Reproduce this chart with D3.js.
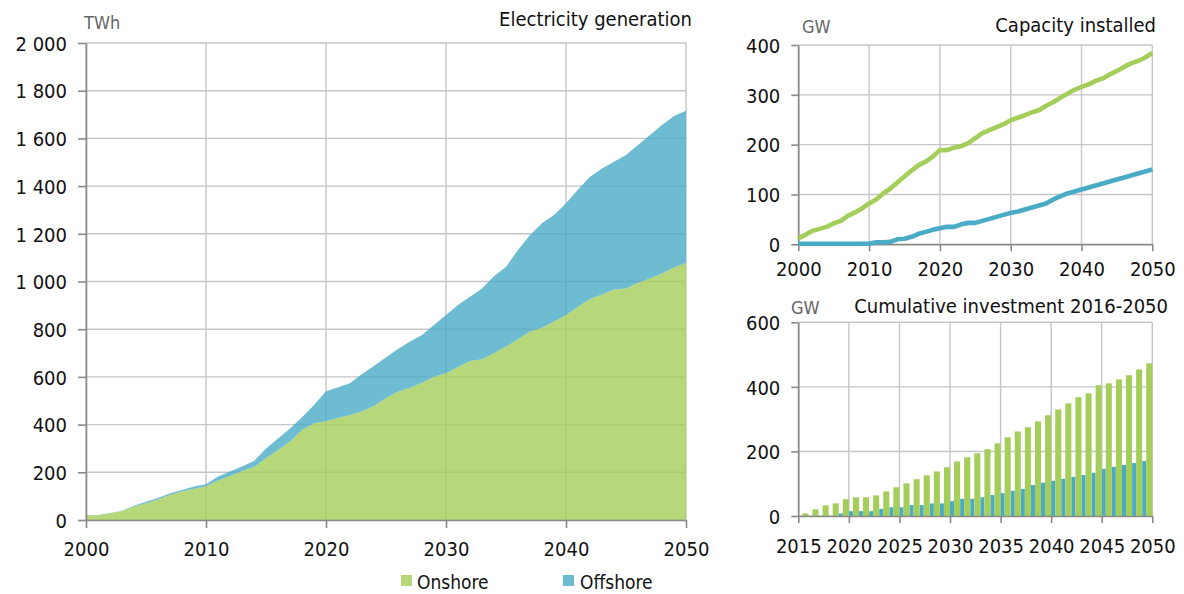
<!DOCTYPE html>
<html>
<head>
<meta charset="utf-8">
<script src="https://cdn.jsdelivr.net/npm/d3@7/dist/d3.min.js"></script>
<style>
  html, body { margin: 0; padding: 0; background: #fff; }
  svg { display: block; }
  text { font-family: 'DejaVu Sans Condensed', 'DejaVu Sans', sans-serif; font-stretch: condensed; fill: #111; }
</style>
</head>
<body>
<svg id="chart" width="1184" height="594"></svg>
<script>
// ---------------- DATA ----------------
const genYears = d3.range(2000, 2051);
const genOnshore = [21, 20, 28, 38, 57, 70, 86, 106, 119, 131,
  142, 166, 184, 205, 222, 259, 293, 329, 377, 406,
  414, 428, 440, 456, 478, 512, 538, 554, 575, 601,
  615, 641, 667, 674, 699, 727, 758, 790, 806, 832,
  860, 894, 927, 945, 966, 971, 995, 1013, 1034, 1059, 1078];
const genOffshore = [0, 1, 1, 1, 3, 7, 6, 6, 7, 9,
  8, 16, 19, 19, 25, 41, 49, 55, 54, 76,
  126, 129, 133, 156, 168, 170, 179, 194, 201, 217,
  245, 260, 269, 297, 323, 335, 374, 405, 438, 447,
  468, 492, 512, 529, 536, 559, 577, 601, 622, 635, 638];

const capYears = d3.range(2000, 2051);
const capOnshore = [12, 19, 27, 31, 35, 42, 47, 57, 64, 72,
  82, 90, 102, 112, 124, 136, 148, 159, 166, 176,
  189, 189, 194, 197, 203, 213, 223, 229, 235, 241,
  249, 254, 259, 265, 269, 278, 285, 294, 302, 310,
  316, 321, 328, 333, 341, 348, 356, 363, 368, 375, 384];
const capOffshore = [1, 1, 1, 1, 1, 1, 1, 1, 1, 1,
  1, 4, 4, 5, 10, 11, 15, 21, 25, 29,
  32, 35, 35, 40, 43, 43, 47, 51, 55, 59,
  63, 66, 70, 74, 78, 82, 90, 96, 102, 106,
  110, 114, 118, 122, 126, 130, 134, 138, 142, 146, 150];

const invYears = d3.range(2016, 2051);
const invOnshore = [8, 21, 33, 39, 52, 58, 58, 64, 76, 89,
  101, 114, 126, 138, 151, 169, 182, 194, 207, 225,
  244, 262, 275, 293, 312, 330, 349, 368, 380, 405,
  411, 423, 436, 454, 473];
const invOffshore = [0, 0, 0, 0, 8, 15, 15, 15, 22, 27,
  27, 34, 34, 39, 39, 46, 53, 53, 58, 65,
  71, 78, 84, 96, 103, 109, 115, 121, 127, 134,
  146, 152, 158, 164, 170];

const seriesNames = ["Onshore", "Offshore"];
const genYTicks = [0, 200, 400, 600, 800, 1000, 1200, 1400, 1600, 1800, 2000];
const genYLabels = ["0", "200", "400", "600", "800", "1 000", "1 200", "1 400", "1 600", "1 800", "2 000"];
const genXTicks = [2000, 2010, 2020, 2030, 2040, 2050];
const capYTicks = [0, 100, 200, 300, 400];
const capXTicks = [2000, 2010, 2020, 2030, 2040, 2050];
const invYTicks = [0, 200, 400, 600];
const invXTicks = [2015, 2020, 2025, 2030, 2035, 2040, 2045, 2050];

// ---------------- STYLE ----------------
const GREEN = "#a5cd5a";
const BLUE = "#4aabc7";
const GRID = "#c6c6c6";
const AXIS = "#8a8a8a";
const FS = 20;

const svg = d3.select("#chart");

function styleAxis(g) {
  g.selectAll("path.domain").attr("stroke", AXIS).attr("stroke-width", 1.6);
  g.selectAll(".tick line").attr("stroke", AXIS).attr("stroke-width", 1.6);
  g.selectAll(".tick text").attr("font-size", FS).attr("fill", "#111")
    .style("font-family", "'DejaVu Sans Condensed', 'DejaVu Sans', sans-serif");
}

function grid(g, x, y, xTicks, yTicks) {
  const [x0, x1] = x.range();
  const [y0, y1] = y.range();
  g.selectAll("line.h").data(yTicks).join("line").attr("class", "h")
    .attr("x1", x0).attr("x2", x1).attr("y1", d => y(d)).attr("y2", d => y(d))
    .attr("stroke", GRID).attr("stroke-width", 1.4);
  g.selectAll("line.v").data(xTicks).join("line").attr("class", "v")
    .attr("x1", d => x(d)).attr("x2", d => x(d)).attr("y1", y0).attr("y2", y1)
    .attr("stroke", GRID).attr("stroke-width", 1.4);
}

// ---------------- LEFT: Electricity generation ----------------
{
  const x = d3.scaleLinear().domain([2000, 2050]).range([86, 686]);
  const y = d3.scaleLinear().domain([0, 2000]).range([520, 43]);
  const g = svg.append("g");
  grid(g.append("g"), x, y, genXTicks, genYTicks);

  const rows = genYears.map((yr, i) => ({ year: yr, Onshore: genOnshore[i], Offshore: genOffshore[i] }));
  const stack = d3.stack().keys(seriesNames)(rows);
  const area = d3.area().x(d => x(d.data.year)).y0(d => y(d[0])).y1(d => y(d[1]));
  const colors = { Onshore: GREEN, Offshore: BLUE };
  g.selectAll("path.area").data(stack).join("path").attr("class", "area")
    .attr("d", area).attr("fill", d => colors[d.key]).attr("fill-opacity", 0.8);

  const ya = g.append("g").attr("transform", `translate(${x(2000)},0)`)
    .call(d3.axisLeft(y).tickValues(genYTicks).tickSize(8).tickSizeOuter(0).tickPadding(11)
      .tickFormat((d, i) => genYLabels[i]));
  styleAxis(ya);
  ya.selectAll(".tick text").attr("dy", "0.36em");

  const xa = g.append("g").attr("transform", `translate(0,${y(0)})`)
    .call(d3.axisBottom(x).tickValues(genXTicks).tickSize(8).tickSizeOuter(0).tickPadding(14).tickFormat(d3.format("d")));
  styleAxis(xa);

  g.append("text").attr("x", 84).attr("y", 29).attr("font-size", 18).attr("fill", "#666").style("fill", "#666").text("TWh");
  g.append("text").attr("x", 692).attr("y", 26).attr("text-anchor", "end").attr("font-size", FS).text("Electricity generation");

  // legend
  const leg = [{ name: "Onshore", c: GREEN, x: 401, tx: 417 }, { name: "Offshore", c: BLUE, x: 563, tx: 580 }];
  const lg = g.selectAll("g.leg").data(leg).join("g").attr("class", "leg");
  lg.append("rect").attr("x", d => d.x).attr("y", 575).attr("width", 11).attr("height", 11)
    .attr("fill", d => d.c).attr("fill-opacity", 0.8);
  lg.append("text").attr("x", d => d.tx).attr("y", 589).attr("font-size", 19).text(d => d.name);
}

// ---------------- TOP RIGHT: Capacity installed ----------------
{
  const x = d3.scaleLinear().domain([2000, 2050]).range([798.3, 1152.3]);
  const y = d3.scaleLinear().domain([0, 400]).range([244.3, 45]);
  const g = svg.append("g");
  grid(g.append("g"), x, y, capXTicks, capYTicks);

  const ya = g.append("g").attr("transform", `translate(${x(2000)},0)`)
    .call(d3.axisLeft(y).tickValues(capYTicks).tickSize(7).tickSizeOuter(0).tickPadding(11));
  styleAxis(ya);
  ya.selectAll(".tick text").attr("dy", "0.36em");
  const xa = g.append("g").attr("transform", `translate(0,${y(0)})`)
    .call(d3.axisBottom(x).tickValues(capXTicks).tickSize(7).tickSizeOuter(0).tickPadding(11).tickFormat(d3.format("d")));
  styleAxis(xa);

  const line = d3.line().x(d => x(d[0])).y(d => y(d[1]));
  const series = [
    { c: GREEN, pts: capYears.map((yr, i) => [yr, capOnshore[i]]) },
    { c: BLUE, pts: capYears.map((yr, i) => [yr, capOffshore[i]]) }
  ];
  g.selectAll("path.ln").data(series).join("path").attr("class", "ln")
    .attr("d", d => line(d.pts)).attr("fill", "none").attr("stroke", d => d.c)
    .attr("stroke-width", 4.6).attr("stroke-linejoin", "round");

  g.append("text").attr("x", 802).attr("y", 33).attr("font-size", 18).style("fill", "#666").text("GW");
  g.append("text").attr("x", 1156).attr("y", 32).attr("text-anchor", "end").attr("font-size", FS).text("Capacity installed");
}

// ---------------- BOTTOM RIGHT: Cumulative investment ----------------
{
  const xg = d3.scaleLinear().domain([2015, 2050]).range([798.3, 1152.3]);
  const xb = d3.scaleBand().domain(invYears).range([798.3, 1152.3]).paddingInner(0).paddingOuter(0);
  const xs = d3.scaleLinear().domain([0, 1]).range([0, xb.bandwidth()]);
  const y = d3.scaleLinear().domain([0, 600]).range([516, 322.3]);
  const g = svg.append("g");
  grid(g.append("g"), xg, y, invXTicks, invYTicks);

  const rows = invYears.map((yr, i) => ({ year: yr, on: invOnshore[i], off: invOffshore[i] }));
  g.selectAll("rect.off").data(rows).join("rect").attr("class", "off")
    .attr("x", d => xb(d.year)).attr("width", xs(0.4))
    .attr("y", d => y(d.off)).attr("height", d => y(0) - y(d.off)).attr("fill", BLUE);
  g.selectAll("rect.on").data(rows).join("rect").attr("class", "on")
    .attr("x", d => xb(d.year) + xs(0.4)).attr("width", xs(0.6))
    .attr("y", d => y(d.on)).attr("height", d => y(0) - y(d.on)).attr("fill", GREEN);

  const ya = g.append("g").attr("transform", `translate(${xg(2015)},0)`)
    .call(d3.axisLeft(y).tickValues(invYTicks).tickSize(7).tickSizeOuter(0).tickPadding(11));
  styleAxis(ya);
  ya.selectAll(".tick text").attr("dy", "0.36em");
  const xa = g.append("g").attr("transform", `translate(0,${y(0)})`)
    .call(d3.axisBottom(xg).tickValues(invXTicks).tickSize(7).tickSizeOuter(0).tickPadding(16).tickFormat(d3.format("d")));
  styleAxis(xa);

  g.append("text").attr("x", 791).attr("y", 314).attr("font-size", 18).style("fill", "#666").text("GW");
  g.append("text").attr("x", 1168).attr("y", 313).attr("text-anchor", "end").attr("font-size", FS).text("Cumulative investment 2016-2050");
}
</script>
</body>
</html>
